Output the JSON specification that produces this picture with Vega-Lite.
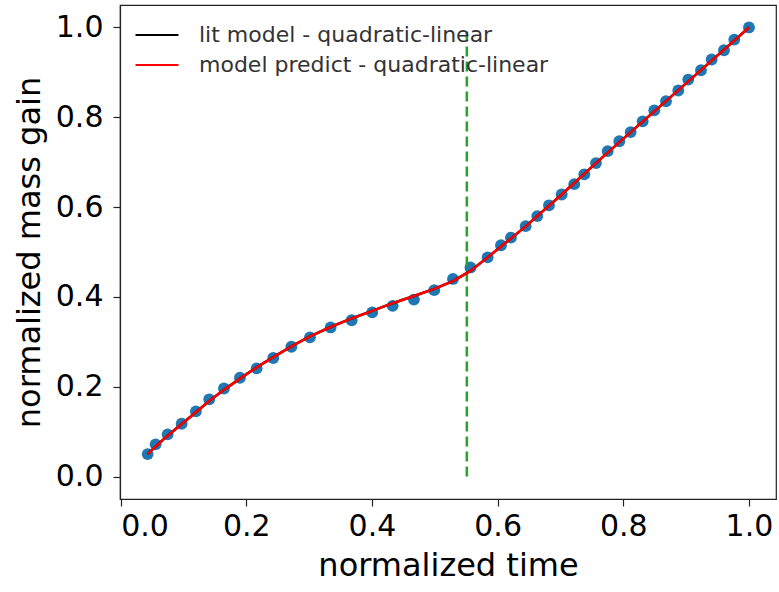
{
  "$schema": "https://vega.github.io/schema/vega-lite/v6.json",
  "width": 656,
  "height": 494,
  "autosize": {"type": "none"},
  "padding": {"left": 120, "top": 5, "right": 3, "bottom": 93},
  "background": "white",
  "config": {
    "font": "DejaVu Sans",
    "view": {"stroke": "#222", "strokeWidth": 1.2},
    "axis": {
      "grid": false,
      "domainColor": "#222",
      "domainWidth": 1.2,
      "tickColor": "#222",
      "tickWidth": 1.2,
      "tickSize": 7,
      "labelFont": "DejaVu Sans",
      "labelFontSize": 30,
      "labelColor": "#000",
      "labelPadding": 5,
      "titleFont": "DejaVu Sans",
      "titleFontSize": 32,
      "titleFontWeight": "normal",
      "titleColor": "#000"
    },
    "legend": {
      "labelFont": "DejaVu Sans"
    }
  },
  "datasets": {
    "pts": [
      {"t": 0.043, "m": 0.050}, {"t": 0.0557, "m": 0.0717}, {"t": 0.0748, "m": 0.094},
      {"t": 0.0971, "m": 0.1175}, {"t": 0.1198, "m": 0.145}, {"t": 0.141, "m": 0.172},
      {"t": 0.1644, "m": 0.196}, {"t": 0.1899, "m": 0.220}, {"t": 0.2165, "m": 0.241},
      {"t": 0.2429, "m": 0.264}, {"t": 0.2718, "m": 0.289}, {"t": 0.3013, "m": 0.310},
      {"t": 0.3342, "m": 0.332}, {"t": 0.3677, "m": 0.348}, {"t": 0.4004, "m": 0.3655},
      {"t": 0.4329, "m": 0.380}, {"t": 0.4668, "m": 0.394}, {"t": 0.4991, "m": 0.415},
      {"t": 0.5289, "m": 0.440}, {"t": 0.5567, "m": 0.4656}, {"t": 0.5841, "m": 0.488},
      {"t": 0.6053, "m": 0.515}, {"t": 0.6212, "m": 0.532}, {"t": 0.6446, "m": 0.5575},
      {"t": 0.6631, "m": 0.580}, {"t": 0.6817, "m": 0.604}, {"t": 0.7019, "m": 0.628},
      {"t": 0.7219, "m": 0.651}, {"t": 0.7379, "m": 0.673}, {"t": 0.7565, "m": 0.698},
      {"t": 0.7751, "m": 0.7245}, {"t": 0.7936, "m": 0.7467}, {"t": 0.8117, "m": 0.767},
      {"t": 0.8308, "m": 0.791}, {"t": 0.8493, "m": 0.8155}, {"t": 0.8679, "m": 0.8356},
      {"t": 0.8875, "m": 0.8596}, {"t": 0.9034, "m": 0.884}, {"t": 0.9236, "m": 0.9047},
      {"t": 0.9406, "m": 0.9286}, {"t": 0.9602, "m": 0.9493}, {"t": 0.9766, "m": 0.973},
      {"t": 1.0, "m": 1.0}
    ],
    "fit": [
      {"t": 0.043, "p": 0.050}, {"t": 0.0557, "p": 0.067}, {"t": 0.0748, "p": 0.091},
      {"t": 0.0971, "p": 0.117}, {"t": 0.1198, "p": 0.143}, {"t": 0.141, "p": 0.168},
      {"t": 0.1644, "p": 0.193}, {"t": 0.1899, "p": 0.218}, {"t": 0.2165, "p": 0.243},
      {"t": 0.2429, "p": 0.266}, {"t": 0.2718, "p": 0.290}, {"t": 0.3013, "p": 0.312},
      {"t": 0.3342, "p": 0.333}, {"t": 0.3677, "p": 0.352}, {"t": 0.4004, "p": 0.369},
      {"t": 0.4329, "p": 0.386}, {"t": 0.4668, "p": 0.402}, {"t": 0.4991, "p": 0.418},
      {"t": 0.5289, "p": 0.435}, {"t": 0.5567, "p": 0.458}, {"t": 0.5841, "p": 0.488},
      {"t": 0.6446, "p": 0.557}, {"t": 0.7019, "p": 0.628}, {"t": 0.7565, "p": 0.698},
      {"t": 0.8117, "p": 0.767}, {"t": 0.8679, "p": 0.836}, {"t": 0.9236, "p": 0.905},
      {"t": 1.0, "p": 1.0}
    ],
    "vline": [{"t": 0.551, "y0": 0, "y1": 1}]
  },
  "layer": [
    {
      "data": {"name": "pts"},
      "mark": {"type": "circle", "size": 140, "color": "#1f77b4", "opacity": 1},
      "encoding": {
        "x": {
          "field": "t", "type": "quantitative",
          "scale": {"domain": [-0.001, 1.043], "nice": false, "zero": false},
          "axis": {"title": "normalized time", "values": [0, 0.2, 0.4, 0.6, 0.8, 1.0], "format": ".1f", "titlePadding": 9}
        },
        "y": {
          "field": "m", "type": "quantitative",
          "scale": {"domain": [-0.05, 1.05], "nice": false, "zero": false},
          "axis": {"title": "normalized mass gain", "values": [0, 0.2, 0.4, 0.6, 0.8, 1.0], "format": ".1f", "titlePadding": 9, "labelPadding": 10}
        }
      }
    },
    {
      "data": {"name": "vline"},
      "mark": {"type": "rule", "color": "#2ca02c", "strokeDash": [10, 5], "strokeWidth": 2.5},
      "encoding": {
        "x": {"field": "t", "type": "quantitative"},
        "y": {"field": "y0", "type": "quantitative"},
        "y2": {"field": "y1"}
      }
    },
    {
      "data": {"name": "fit"},
      "mark": {"type": "line", "strokeWidth": 2.5},
      "encoding": {
        "x": {"field": "t", "type": "quantitative"},
        "y": {"field": "p", "type": "quantitative"},
        "color": {
          "datum": "lit model - quadratic-linear",
          "type": "nominal",
          "scale": {"domain": ["lit model - quadratic-linear", "model predict - quadratic-linear"], "range": ["#000000", "#ff0000"]},
          "legend": {
            "title": null,
            "orient": "none",
            "legendX": 26,
            "legendY": 19,
            "symbolType": "M-3,0H3",
            "symbolSize": 205,
            "symbolStrokeWidth": 2.2,
            "symbolFillColor": "transparent",
            "labelFontSize": 22,
            "labelColor": "#333",
            "labelOffset": 31,
            "labelLimit": 500,
            "rowPadding": 8,
            "padding": 0
          }
        }
      }
    },
    {
      "data": {"name": "fit"},
      "mark": {"type": "line", "strokeWidth": 2.5},
      "encoding": {
        "x": {"field": "t", "type": "quantitative"},
        "y": {"field": "p", "type": "quantitative"},
        "color": {"datum": "model predict - quadratic-linear", "type": "nominal"}
      }
    }
  ]
}
